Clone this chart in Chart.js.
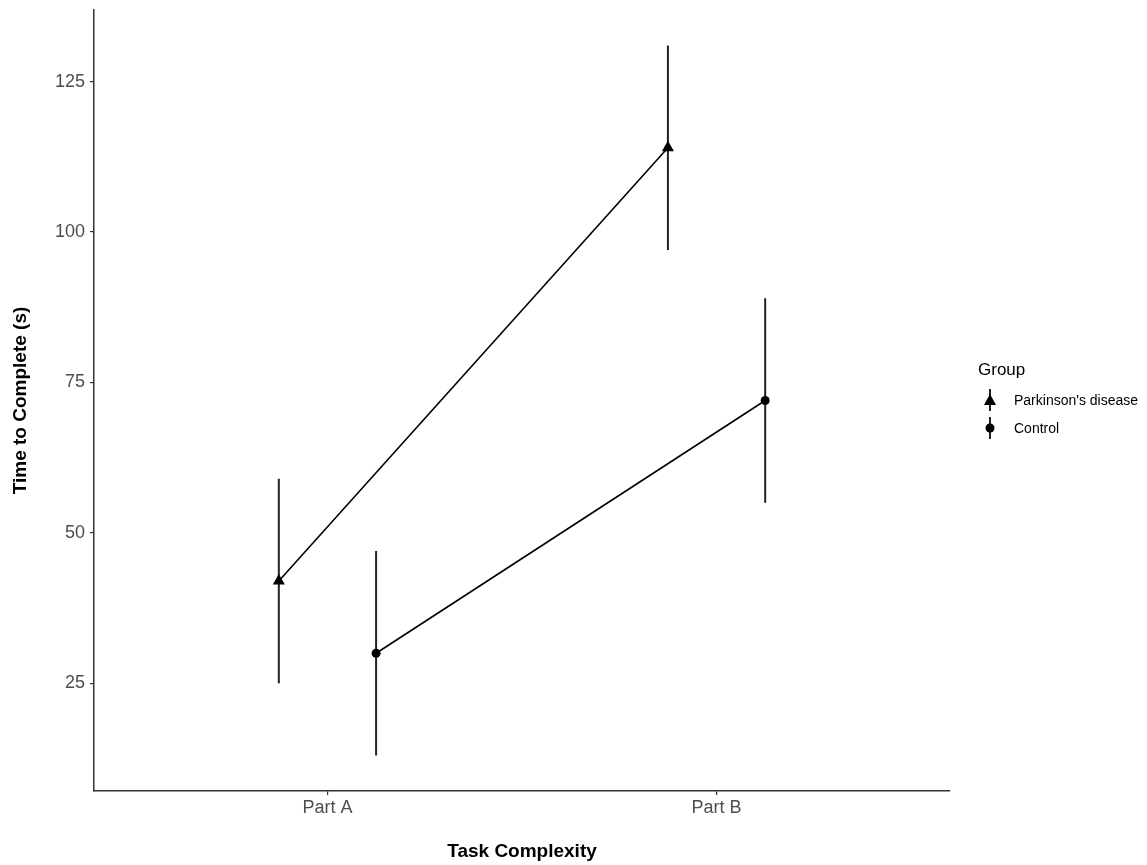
<!DOCTYPE html>
<html>
<head>
<meta charset="utf-8">
<script src="https://cdn.jsdelivr.net/npm/chart.js@4/dist/chart.umd.min.js"></script>
<style>
  html, body { margin: 0; padding: 0; background: #fff; }
  #wrap { width: 1147px; height: 865px; }
</style>
</head>
<body>
<div id="wrap"><canvas id="c" width="1147" height="865"></canvas></div>
<script>
'use strict';

const categories = ['Part A', 'Part B'];
const groups = ["Parkinson's disease", 'Control'];
const pdMean = [42, 114];
const pdError = [17, 17];
const ctrlMean = [30, 72];
const ctrlError = [17, 17];
const yTicks = [25, 50, 75, 100, 125];
const dodge = 0.125;

const FONT = '"Liberation Sans", Arial, sans-serif';

function toPoints(means, offset) {
  return means.map((m, i) => ({ x: i + 1 + offset, y: m }));
}

const errorBarPlugin = {
  id: 'errorBars',
  beforeDatasetsDraw(chart) {
    const { ctx, scales } = chart;
    const sets = [[pdMean, pdError, -dodge], [ctrlMean, ctrlError, dodge]];
    ctx.save();
    ctx.strokeStyle = '#222';
    ctx.lineWidth = 2;
    for (const [means, errs, off] of sets) {
      means.forEach((m, i) => {
        const px = scales.x.getPixelForValue(i + 1 + off);
        ctx.beginPath();
        ctx.moveTo(px, scales.y.getPixelForValue(m - errs[i]));
        ctx.lineTo(px, scales.y.getPixelForValue(m + errs[i]));
        ctx.stroke();
      });
    }
    ctx.restore();
  },
};

const legendPlugin = {
  id: 'ggLegend',
  afterDraw(chart) {
    const ctx = chart.ctx;
    const x0 = 978;
    ctx.save();
    ctx.fillStyle = '#000';
    ctx.font = '17px ' + FONT;
    ctx.textBaseline = 'middle';
    ctx.fillText('Group', x0, 370);
    ctx.font = '14px ' + FONT;
    groups.forEach((g, i) => {
      const cy = 400 + i * 28;
      const mx = 990;
      ctx.strokeStyle = '#222';
      ctx.lineWidth = 2;
      ctx.beginPath();
      ctx.moveTo(mx, cy - 11);
      ctx.lineTo(mx, cy + 11);
      ctx.stroke();
      ctx.fillStyle = '#000';
      ctx.beginPath();
      if (i === 0) {
        ctx.moveTo(mx, cy - 6);
        ctx.lineTo(mx + 6, cy + 5);
        ctx.lineTo(mx - 6, cy + 5);
        ctx.closePath();
      } else {
        ctx.arc(mx, cy, 4.5, 0, Math.PI * 2);
      }
      ctx.fill();
      ctx.fillText(g, 1014, cy + 1);
    });
    ctx.restore();
  },
};

const ctx = document.getElementById('c').getContext('2d');
new Chart(ctx, {
  type: 'scatter',
  data: {
    datasets: [
      {
        label: groups[0],
        data: toPoints(pdMean, -dodge),
        showLine: true,
        borderColor: '#000',
        borderWidth: 1.6,
        pointStyle: 'triangle',
        pointRadius: 7,
        pointBackgroundColor: '#000',
        pointBorderColor: '#000',
        pointBorderWidth: 0,
      },
      {
        label: groups[1],
        data: toPoints(ctrlMean, dodge),
        showLine: true,
        borderColor: '#000',
        borderWidth: 1.6,
        pointStyle: 'circle',
        pointRadius: 4.5,
        pointBackgroundColor: '#000',
        pointBorderColor: '#000',
        pointBorderWidth: 0,
      },
    ],
  },
  options: {
    responsive: false,
    animation: false,
    layout: { padding: { top: 10, right: 197, bottom: 0, left: 0 } },
    plugins: {
      legend: { display: false },
      tooltip: { enabled: false },
    },
    scales: {
      x: {
        type: 'linear',
        min: 0.4,
        max: 2.6,
        afterBuildTicks(scale) {
          scale.ticks = categories.map((c, i) => ({ value: i + 1 }));
        },
        afterFit(scale) {
          scale.height = 74;
          scale.paddingLeft = 0;
          scale.paddingRight = 0;
        },
        ticks: {
          callback: (v) => categories[Math.round(v) - 1],
          color: '#4d4d4d',
          font: { family: FONT, size: 18 },
          padding: 2,
          maxRotation: 0,
        },
        grid: { drawOnChartArea: false, drawTicks: true, tickLength: 4, color: '#333', lineWidth: 1.2 },
        border: { display: true, color: '#333', width: 1.5 },
        title: {
          display: true,
          text: 'Task Complexity',
          color: '#000',
          font: { family: FONT, size: 19, weight: 'bold' },
          padding: { top: 0, bottom: 2 },
        },
      },
      y: {
        type: 'linear',
        min: 7.1,
        max: 136.9,
        afterBuildTicks(scale) {
          scale.ticks = yTicks.map((v) => ({ value: v }));
        },
        afterFit(scale) {
          scale.width = 94;
          scale.paddingTop = 0;
          scale.paddingBottom = 0;
        },
        ticks: {
          color: '#4d4d4d',
          font: { family: FONT, size: 18 },
          padding: 5,
        },
        grid: { drawOnChartArea: false, drawTicks: true, tickLength: 4, color: '#333', lineWidth: 1.2 },
        border: { display: true, color: '#333', width: 1.5 },
        title: {
          display: true,
          text: 'Time to Complete (s)',
          color: '#000',
          font: { family: FONT, size: 19, weight: 'bold' },
          padding: { top: 9, bottom: 0 },
        },
      },
    },
  },
  plugins: [errorBarPlugin, legendPlugin],
});
</script>
</body>
</html>
